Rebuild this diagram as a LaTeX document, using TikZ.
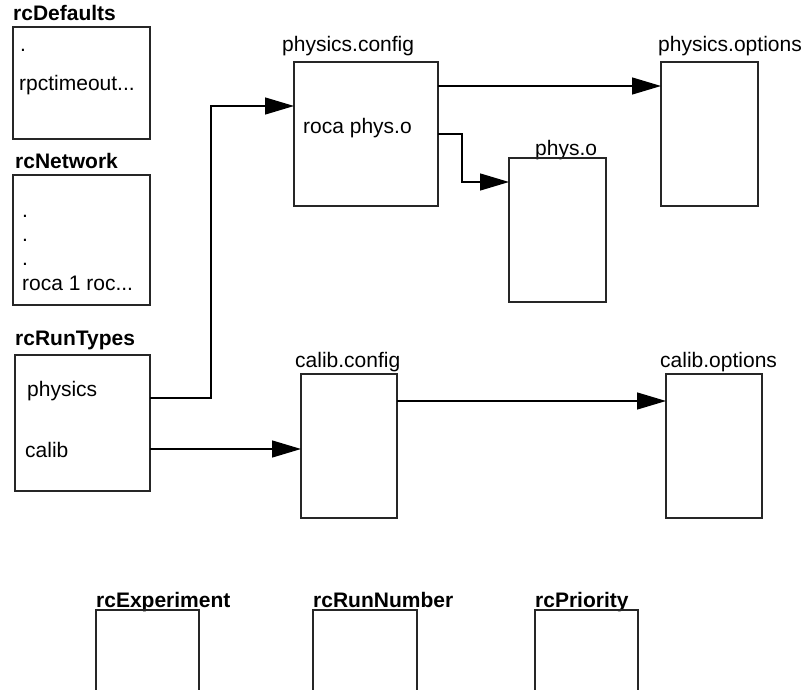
\documentclass[tikz,border=0pt]{standalone}
\usepackage{fontspec}
\setmainfont{Liberation Sans}
\usetikzlibrary{arrows.meta}
\begin{document}
\begin{tikzpicture}[x=1pt,y=-1pt,
  box/.style={draw=black!85,line width=1.3pt,rectangle,anchor=north west,inner sep=0pt,outer sep=0pt},
  txt/.style={anchor=base west,inner sep=0pt,font=\fontsize{21}{25}\selectfont},
  ttl/.style={anchor=base west,inner sep=0pt,font=\fontsize{21}{25}\selectfont\bfseries},
  conn/.style={draw=black,line width=1.3pt,-{Triangle[length=29pt,width=17pt]}},
  wire/.style={draw=black,line width=1.3pt}]
\clip (0,0) rectangle (808,690);
\fill[white] (0,0) rectangle (808,690);
% left column
\node[ttl] (tdef) at (13,21) {rcDefaults};
\node[box,minimum width=137pt,minimum height=112pt] (def) at (13,27) {};
\node[txt] (d1) at (20,52) {.};
\node[txt] (d2) at (19,91) {rpctimeout...};
\node[ttl] (tnet) at (15,168) {rcNetwork};
\node[box,minimum width=137pt,minimum height=130pt] (net) at (13,175) {};
\node[txt] (n1) at (22,217) {.};
\node[txt] (n2) at (22,241) {.};
\node[txt] (n3) at (22,265) {.};
\node[txt] (n4) at (22,290) {roca 1 roc...};
\node[ttl] (trt) at (15,345) {rcRunTypes};
\node[box,minimum width=135pt,minimum height=136pt] (rt) at (15,355) {};
\node[txt] (r1) at (27,396) {physics};
\node[txt] (r2) at (25,457) {calib};
% physics
\node[txt] (tpc) at (282,52) {physics.config};
\node[box,minimum width=144pt,minimum height=144pt] (pc) at (294,62) {};
\node[txt] (p1) at (303,134) {roca phys.o};
\node[txt] (tpo) at (658,52) {physics.options};
\node[box,minimum width=97pt,minimum height=144pt] (po) at (661,62) {};
\node[txt] (tpho) at (535,155) {phys.o};
\node[box,minimum width=97pt,minimum height=144pt] (pho) at (509,158) {};
% calib
\node[txt] (tcc) at (295,367) {calib.config};
\node[box,minimum width=96pt,minimum height=144pt] (cc) at (301,374) {};
\node[txt] (tco) at (660,367) {calib.options};
\node[box,minimum width=96pt,minimum height=144pt] (co) at (666,374) {};
% bottom
\node[ttl] (tex) at (96,607) {rcExperiment};
\node[box,minimum width=103pt,minimum height=120pt] (ex) at (96,610) {};
\node[ttl] (trn) at (313,607) {rcRunNumber};
\node[box,minimum width=104pt,minimum height=120pt] (rn) at (313,610) {};
\node[ttl] (tpr) at (535,607) {rcPriority};
\node[box,minimum width=103pt,minimum height=120pt] (pr) at (535,610) {};
% connectors
\draw[conn] ([yshift=-43pt]rt.north east) -- ++(61,0) |- ([yshift=-44pt]pc.north west);
\draw[conn] ([yshift=-94pt]rt.north east) -- ([yshift=-94pt]rt.north east -| cc.west);
\draw[conn] ([yshift=-24pt]pc.north east) -- ([yshift=-24pt]pc.north east -| po.west);
\draw[conn] ([yshift=-72pt]pc.north east) -- ++(24,0) |- ([yshift=-24pt]pho.north west);
\draw[conn] ([yshift=-27pt]cc.north east) -- ([yshift=-27pt]cc.north east -| co.west);
\end{tikzpicture}
\end{document}
